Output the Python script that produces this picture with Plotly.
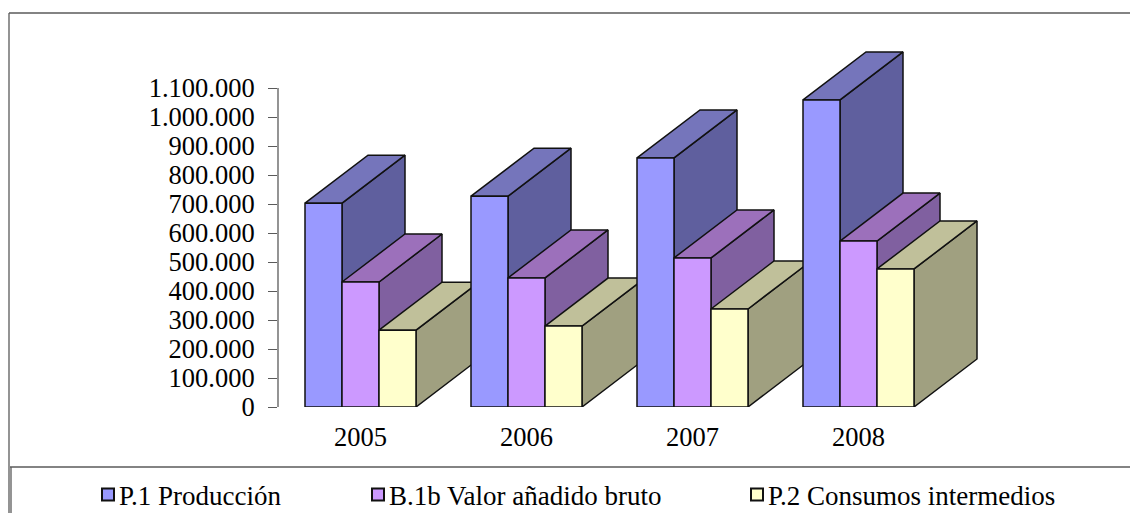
import plotly.graph_objects as go

# ---- data ----
years = ["2005", "2006", "2007", "2008"]
names = ["P.1 Producción", "B.1b Valor añadido bruto", "P.2 Consumos intermedios"]
produccion = [703000, 727000, 859000, 1059000]
valor_anadido = [431000, 445000, 514000, 572000]
consumos = [265000, 279000, 338000, 476000]
series = [produccion, valor_anadido, consumos]
y_ticks = [0, 100000, 200000, 300000, 400000, 500000, 600000, 700000, 800000, 900000, 1000000, 1100000]
y_labels = ["0", "100.000", "200.000", "300.000", "400.000", "500.000", "600.000",
            "700.000", "800.000", "900.000", "1.000.000", "1.100.000"]

# ---- styles ----
front = ["#9999FF", "#CC99FF", "#FFFFCC"]
side = ["#5F5F9E", "#8060A0", "#A0A080"]
top = ["#7575BB", "#9C70BB", "#C0C09A"]
W, H = 1130, 513
FONT = "Liberation Serif"
X0, X_UNIT, X_AXIS = 360.5, 166.0, 278.0   # px of first group, px per group, px of y axis
Y_ZERO, PX_PER_UNIT = 407.0, 319.0 / 1100000
BAR = 37.0 / X_UNIT
DX, DY = 63.0 / X_UNIT, 48.0 / PX_PER_UNIT

x_range = [(X_AXIS - X0) / X_UNIT, (W - X0) / X_UNIT]
y_range = [0, Y_ZERO / PX_PER_UNIT]
x_domain = [X_AXIS / W, 1]
y_domain = [(H - Y_ZERO) / H, 1]
LINE = dict(color="#111111", width=1.5)
FRAME = dict(color="#5a5a5a", width=1.3)

fig = go.Figure()

# depth faces, back to front
for i in range(len(years)):
    for s, values in enumerate(series):
        v = values[i]
        x0 = i - 1.5 * BAR + s * BAR
        x1 = x0 + BAR
        fig.add_trace(go.Scatter(
            x=[x1, x1 + DX, x1 + DX, x1, x1], y=[0, DY, v + DY, v, 0],
            mode="lines", fill="toself", fillcolor=side[s], line=LINE,
            showlegend=False, hoverinfo="skip"))
        fig.add_trace(go.Scatter(
            x=[x0, x1, x1 + DX, x0 + DX, x0], y=[v, v, v + DY, v + DY, v],
            mode="lines", fill="toself", fillcolor=top[s], line=LINE,
            showlegend=False, hoverinfo="skip"))

# front faces
legends = ["legend", "legend2", "legend3"]
for s, values in enumerate(series):
    fig.add_trace(go.Bar(
        x=list(range(len(years))), y=values, name=names[s], xaxis="x2", yaxis="y2",
        marker=dict(color=front[s], line=LINE), showlegend=False))
    # legend entry with the framed square swatch of the reference
    fig.add_trace(go.Scatter(
        x=[None], y=[None], name=names[s], mode="markers", xaxis="x2", yaxis="y2",
        marker=dict(symbol="square", size=12, color=front[s], line=dict(color="#111111", width=2)),
        legend=legends[s], hoverinfo="skip"))


def px(x):
    return x / W


def py(y):
    return 1 - y / H


frame = [(9, 13, 9, 513), (9, 13, 1130, 13), (10, 467, 1130, 467), (11, 467, 11, 513)]
shapes = [dict(type="line", xref="paper", yref="paper", x0=px(a), y0=py(b), x1=px(c), y1=py(d), line=FRAME)
          for a, b, c, d in frame]
shapes.append(dict(type="line", xref="x domain", yref="y", x0=0, x1=0, y0=0, y1=y_ticks[-1], line=FRAME))

legend_font = dict(family=FONT, size=27, color="#000000")


def legend_at(x_px):
    return dict(x=px(x_px), y=py(495), xanchor="left", yanchor="middle", orientation="h",
                font=legend_font, bgcolor="rgba(0,0,0,0)", itemclick=False, itemdoubleclick=False)


tick_font = dict(family=FONT, size=26.5, color="#000000")
fig.update_layout(
    width=W, height=H, autosize=False,
    margin=dict(l=0, r=0, t=0, b=0, pad=0, autoexpand=False),
    paper_bgcolor="white", plot_bgcolor="white",
    barmode="group", bargap=1 - 3 * BAR, bargroupgap=0,
    font=dict(family=FONT, size=26, color="#000000"),
    shapes=shapes,
    legend=legend_at(79), legend2=legend_at(349), legend3=legend_at(728),
    xaxis=dict(domain=x_domain, range=x_range, tickmode="array", tickvals=list(range(len(years))),
               ticktext=years, showgrid=False, zeroline=False, showline=False,
               ticks="outside", ticklen=6, tickcolor="rgba(0,0,0,0)", tickfont=tick_font),
    yaxis=dict(domain=y_domain, range=y_range, tickmode="array", tickvals=y_ticks, ticktext=y_labels,
               showgrid=False, zeroline=False, showline=False, ticks="outside", ticklen=9,
               tickwidth=1.3, tickcolor="#5a5a5a", ticklabelstandoff=8, tickfont=tick_font),
    xaxis2=dict(domain=x_domain, range=x_range, overlaying="x", anchor="y2", visible=False),
    yaxis2=dict(domain=y_domain, range=y_range, overlaying="y", anchor="x2", visible=False),
)

# the reference keeps its legend swatches close to their text
post = """
document.body.style.margin = '0';
var gd = document.querySelector('.plotly-graph-div');
function nudge() {
  document.querySelectorAll('.infolayer .legendpoints').forEach(function (g) {
    g.setAttribute('transform', 'translate(9,0)');
  });
}
gd.on('plotly_afterplot', nudge);
nudge();
"""
fig.write_html("out.html", config={"displayModeBar": False}, post_script=post)
